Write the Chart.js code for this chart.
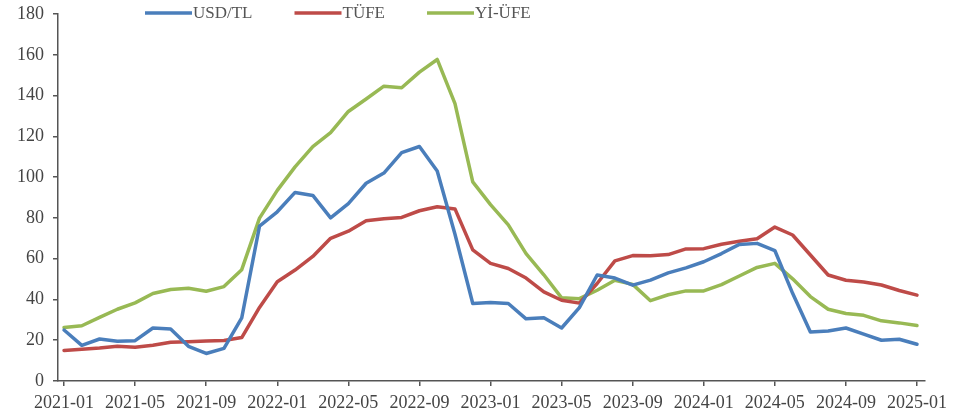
<!DOCTYPE html>
<html>
<head>
<meta charset="utf-8">
<script src="https://cdn.jsdelivr.net/npm/chart.js@4"></script>
<style>
  html, body { margin: 0; padding: 0; background: #fff; }
  #wrap { width: 967px; height: 417px; position: relative; }
</style>
</head>
<body>
<div id="wrap"><canvas id="kurChart"></canvas></div>
<script>
const months = [
  '2021-01','2021-02','2021-03','2021-04','2021-05','2021-06','2021-07','2021-08','2021-09','2021-10','2021-11','2021-12',
  '2022-01','2022-02','2022-03','2022-04','2022-05','2022-06','2022-07','2022-08','2022-09','2022-10','2022-11','2022-12',
  '2023-01','2023-02','2023-03','2023-04','2023-05','2023-06','2023-07','2023-08','2023-09','2023-10','2023-11','2023-12',
  '2024-01','2024-02','2024-03','2024-04','2024-05','2024-06','2024-07','2024-08','2024-09','2024-10','2024-11','2024-12',
  '2025-01'
];
const usdTl = [25, 17.5, 20.6, 19.5, 19.8, 26, 25.5, 17, 13.5, 16, 31, 76,
  83, 92.5, 91, 80, 87, 97, 102, 112, 115, 103, 72, 38,
  38.5, 38, 30.5, 31, 26, 36, 52, 50.5, 47, 49.5, 53, 55.5,
  58.5, 62.5, 67, 67.5, 64, 43, 24, 24.5, 26, 23, 20, 20.5,
  18];
const tufe = [15, 15.6, 16.2, 17.1, 16.6, 17.5, 19, 19.3, 19.6, 19.9, 21.3, 36.1,
  48.7, 54.4, 61.1, 70, 73.5, 78.6, 79.6, 80.2, 83.5, 85.5, 84.4, 64.3,
  57.7, 55.2, 50.5, 43.7, 39.6, 38.2, 47.8, 58.9, 61.5, 61.4, 62, 64.8,
  64.9, 67.1, 68.5, 69.8, 75.5, 71.6, 61.8, 52, 49.4, 48.6, 47.1, 44.4,
  42.1];
const yiUfe = [26.2, 27.1, 31.2, 35.2, 38.3, 42.9, 44.9, 45.5, 44, 46.3, 54.6, 79.9,
  93.5, 105, 115, 121.8, 132.2, 138.3, 144.6, 143.8, 151.5, 157.7, 136, 97.7,
  86.5, 76.6, 62.5, 52.1, 40.8, 40.4, 44.5, 49.4, 47.4, 39.4, 42.3, 44.2,
  44.2, 47.3, 51.5, 55.7, 57.7, 50.1, 41.4, 35.2, 33.1, 32.2, 29.5, 28.5,
  27.2];
const yTicks = [0, 20, 40, 60, 80, 100, 120, 140, 160, 180];

const toPoints = arr => arr.map((v, i) => ({ x: i, y: v }));
const axisGrey = '#555';
const font = { family: '"Liberation Serif", "Times New Roman", serif', size: 18, lineHeight: 1 };

// legend drawn inside the plot, left of centre like the original
const topLegend = {
  id: 'topLegend',
  afterDraw(chart) {
    const ctx = chart.ctx;
    let x = 145;
    const y = 13;
    ctx.save();
    ctx.font = '17px "Liberation Serif", serif';
    ctx.textBaseline = 'middle';
    chart.data.datasets.forEach(ds => {
      ctx.strokeStyle = ds.borderColor;
      ctx.lineWidth = 3.5;
      ctx.beginPath();
      ctx.moveTo(x, y);
      ctx.lineTo(x + 47, y);
      ctx.stroke();
      ctx.fillStyle = '#555';
      ctx.fillText(ds.label, x + 48, y + 1);
      x += 48 + ctx.measureText(ds.label).width + 42;
    });
    ctx.restore();
  }
};

new Chart(document.getElementById('kurChart'), {
  type: 'line',
  data: {
    datasets: [
      { label: 'USD/TL', data: toPoints(usdTl), borderColor: '#4a7ebb' },
      { label: 'TÜFE', data: toPoints(tufe), borderColor: '#be4b48' },
      { label: 'Yİ-ÜFE', data: toPoints(yiUfe), borderColor: '#98b954' }
    ]
  },
  options: {
    responsive: true,
    maintainAspectRatio: false,
    animation: false,
    layout: { padding: { top: 14, right: 42, left: 0, bottom: 4 } },
    elements: {
      line: { borderWidth: 3.5, tension: 0, borderJoinStyle: 'round', borderCapStyle: 'round' },
      point: { radius: 0 }
    },
    plugins: { legend: { display: false }, tooltip: { enabled: false } },
    scales: {
      x: {
        type: 'linear',
        min: -0.34,
        max: 48.45,
        afterFit: s => { s.height = 32; },
        border: { color: axisGrey, width: 1.5 },
        grid: { display: true, drawOnChartArea: false, drawTicks: true, tickLength: 5, color: axisGrey, lineWidth: 1.5 },
        ticks: {
          stepSize: 4,
          includeBounds: false,
          autoSkip: false,
          maxRotation: 0,
          padding: 8,
          color: '#444',
          font,
          callback: v => months[v]
        }
      },
      y: {
        min: 0,
        max: 180,
        afterFit: s => { s.width = 58; s.paddingTop = 0; s.paddingBottom = 0; },
        afterBuildTicks: s => { s.ticks = yTicks.map(v => ({ value: v })); },
        border: { color: axisGrey, width: 1.5 },
        grid: { display: true, drawOnChartArea: false, drawTicks: true, tickLength: 5, color: axisGrey, lineWidth: 1.5 },
        ticks: { padding: 9, color: '#444', font }
      }
    }
  },
  plugins: [topLegend]
});
</script>
</body>
</html>
